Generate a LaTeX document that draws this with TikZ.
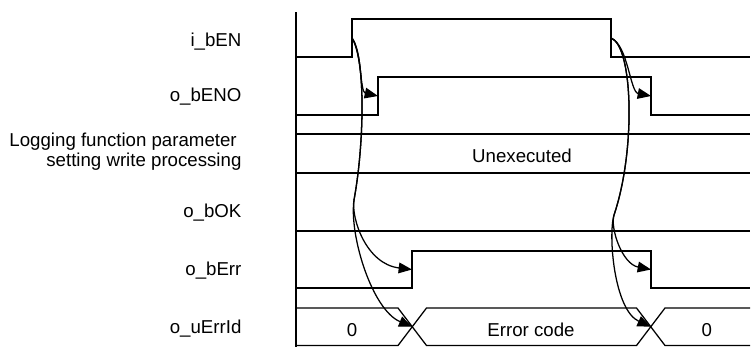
\documentclass[tikz,border=0pt]{standalone}
\usepackage{fontspec}
\setmainfont{Liberation Sans}
\usetikzlibrary{arrows.meta}
\begin{document}
\begin{tikzpicture}[x=0.75pt,y=-0.75pt,
  sig/.style={line width=0.95pt, line join=miter},
  lbl/.style={anchor=base east, inner sep=0pt, font=\fontsize{14}{16}\selectfont},
  txt/.style={anchor=base, inner sep=0pt, font=\fontsize{14}{16}\selectfont},
  conn/.style={line width=0.95pt, -{Triangle[length=10pt,width=8pt]}}]
\useasboundingbox (0,0) rectangle (752,347);
% axis
\draw[sig] (296,12) -- (296,347);
% i_bEN
\draw[sig] (296,57) -- (352,57) -- (352,19) -- (611,19) -- (611,57) -- (750,57);
% o_bENO
\draw[sig] (296,115) -- (378,115) -- (378,77) -- (651,77) -- (651,115) -- (750,115);
% Logging
\draw[sig] (296,134) -- (750,134);
\draw[sig] (296,173) -- (750,173);
% o_bOK
\draw[sig] (296,231) -- (750,231);
% o_bErr
\draw[sig] (296,288) -- (412,288) -- (412,251) -- (651,251) -- (651,288) -- (750,288);
% o_uErrId bus
\draw[sig] (296,345.5) -- (398,345.5) -- (426.5,308) -- (636.5,308) -- (665,345.5) -- (750,345.5);
\draw[sig] (296,308) -- (398,308) -- (426.5,345.5) -- (636.5,345.5) -- (665,308) -- (750,308);
% labels
\node[lbl] (l1) at (241.7,46) {i\_bEN};
\node[lbl] (l2) at (241.7,101.7) {o\_bENO};
\node[lbl] (l3a) at (237,146) {Logging function parameter};
\node[lbl] (l3b) at (241.7,166.5) {setting write processing};
\node[lbl] (l4) at (241.7,217.3) {o\_bOK};
\node[lbl] (l5) at (241.7,275) {o\_bErr};
\node[lbl] (l6) at (241.7,333.3) {o\_uErrId};
% texts in bands
\node[txt] (t1) at (522,162.3) {Unexecuted};
\node[txt] (t2) at (352,336) {0};
\node[txt] (t3) at (531,336) {Error code};
\node[txt] (t4) at (706.7,336) {0};
% connector coordinates
\coordinate (enR) at (352,38);
\coordinate (enF) at (611,38);
\coordinate (enoR) at (378,96);
\coordinate (enoF) at (651,96);
\coordinate (errR) at (412,269.5);
\coordinate (errF) at (651,269.5);
\coordinate (idA) at (412.25,326.75);
\coordinate (idB) at (650.75,326.75);
\coordinate (mL) at (354,200);
\coordinate (mR) at (614,215);
% left connectors
\draw[conn] (enR) .. controls (362,55) and (360,92) .. (enoR);
\draw[conn] (enR) .. controls (365,55) and (365,140) .. (mL) .. controls (351,218) and (366,264) .. (errR);
\draw[conn] (enR) .. controls (365,55) and (365,140) .. (mL) .. controls (349,235) and (372,310) .. (idA);
% right connectors
\draw[conn] (enF) .. controls (628,45) and (630,92) .. (enoF);
\draw[conn] (enF) .. controls (633,46) and (636,150) .. (mR) .. controls (610,228) and (622,264) .. (errF);
\draw[conn] (enF) .. controls (633,46) and (636,150) .. (mR) .. controls (608,235) and (614,310) .. (idB);
\end{tikzpicture}
\end{document}
